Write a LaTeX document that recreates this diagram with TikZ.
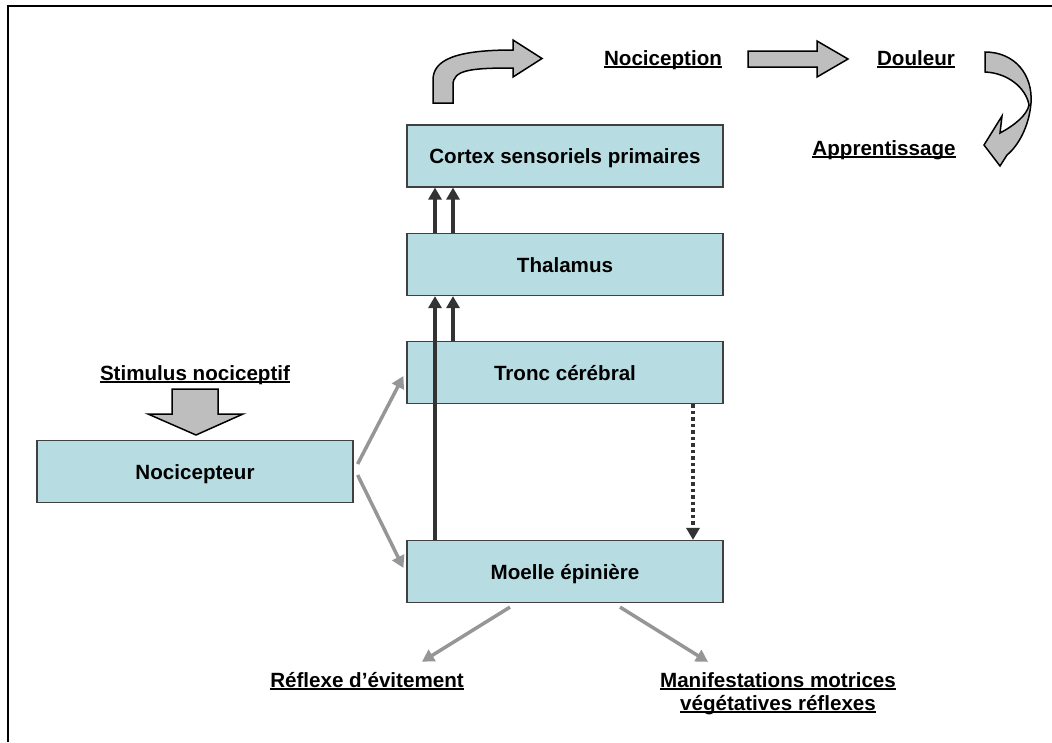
\documentclass[tikz,border=0pt]{standalone}
\usepackage{fontspec}
\setmainfont{Liberation Sans}
\usepackage{tikz}
\usetikzlibrary{arrows.meta}

\definecolor{boxblue}{RGB}{183,221,227}
\definecolor{darkarrow}{RGB}{51,51,51}
\definecolor{greyarrow}{RGB}{150,150,150}
\definecolor{blockgrey}{RGB}{190,190,190}

\newlength\ulwd
\newcommand\ultext[1]{\settowidth\ulwd{#1}\rlap{#1}\rule[-3pt]{\ulwd}{1.6pt}}

\begin{document}
\begin{tikzpicture}[x=1pt,y=-1pt,
	stage/.style={draw=black!75,line width=1.2pt,fill=boxblue,minimum width=316pt,minimum height=62pt,inner sep=0pt,text height=15pt,text depth=0pt,font=\fontsize{20.6}{24}\selectfont\bfseries},
	underlined/.style={inner sep=0pt,anchor=base,align=center,font=\fontsize{20.6}{23}\selectfont\bfseries},
	mainarrow/.style={darkarrow,line width=3.5pt,-{Triangle[width=13pt,length=12pt]}},
	sidearrow/.style={greyarrow,line width=3.5pt,-{Triangle[width=13pt,length=12pt]}},
	blockarrow/.style={draw=black,line width=1.5pt,fill=blockgrey,line join=miter}]
			\useasboundingbox (0,0) rectangle (1052,742);
			\draw[line width=2pt] (8,742) -- (8,6) -- (1052,6);

			\node[stage] (cortex) at (565,156) {Cortex sensoriels primaires};
			\node[stage] (thal) at (565,264.5) {Thalamus};
			\node[stage] (tronc) at (565,372.5) {Tronc cérébral};
			\node[stage] (moelle) at (565,571.5) {Moelle épinière};
			\node[stage] (noci) at (195,471.5) {Nocicepteur};

			\node[underlined] (stim) at (195,380) {\ultext{Stimulus nociceptif}};
			\node[underlined] (nocicep) at (663,65) {\ultext{Nociception}};
			\node[underlined] (douleur) at (916,65) {\ultext{Douleur}};
			\node[underlined] (apprent) at (884,155) {\ultext{Apprentissage}};
			\node[underlined] (reflexe) at (367,687) {\ultext{Réflexe d’évitement}};
			\node[underlined] (manif) at (778,710) {\ultext{Manifestations motrices}\\\ultext{végétatives réflexes}};

			% block arrows
			\draw[blockarrow] (172,389) -- (218,389) -- (218,414) -- (243,414) -- (196,435) -- (148,414) -- (172,414) -- cycle;
			\draw[blockarrow] (433,103) -- (433,80) .. controls (433,60) and (455,50) .. (513,50) -- (513,40) -- (542,58.5) -- (513,77) -- (513,68) .. controls (470,68) and (453,70) .. (453,85) -- (453,103) -- cycle;
			\draw[blockarrow] (748,51) -- (817,51) -- (817,41) -- (848,59) -- (817,77) -- (817,67) -- (748,67) -- cycle;
			\draw[blockarrow] (985,52) .. controls (1015,52) and (1033,75) .. (1031,103) .. controls (1029,127) and (1018,146) .. (1007,155) -- (1000,166) -- (984,145) -- (1002,116) -- (1000,133) .. controls (1015,125) and (1027,115) .. (1029,105) .. controls (1026,88) and (1008,73) .. (985,72) -- cycle;

			\draw[mainarrow] ([xshift=-130pt]moelle.north) -- ([xshift=-130pt]thal.south);
			\draw[mainarrow] ([xshift=-112pt]tronc.north) -- ([xshift=-112pt]thal.south);
			\draw[mainarrow] ([xshift=-130pt]thal.north) -- ([xshift=-130pt]cortex.south);
			\draw[mainarrow] ([xshift=-112pt]thal.north) -- ([xshift=-112pt]cortex.south);
			\draw[mainarrow,dash pattern=on 3.5pt off 3pt] ([xshift=128pt]tronc.south) -- ([xshift=128pt]moelle.north);

			\draw[sidearrow] ([xshift=4pt,yshift=7.5pt]noci.east) -- ([xshift=-3pt,yshift=-3.5pt]tronc.west);
			\draw[sidearrow] ([xshift=4pt,yshift=-3.5pt]noci.east) -- ([xshift=-3pt,yshift=3.5pt]moelle.west);
			\draw[sidearrow] ([xshift=-55pt,yshift=-4pt]moelle.south) -- ([xshift=55pt,yshift=10pt]reflexe.north);
			\draw[sidearrow] ([xshift=55pt,yshift=-4pt]moelle.south) -- ([xshift=-70pt,yshift=10pt]manif.north);
		\end{tikzpicture}
\end{document}
